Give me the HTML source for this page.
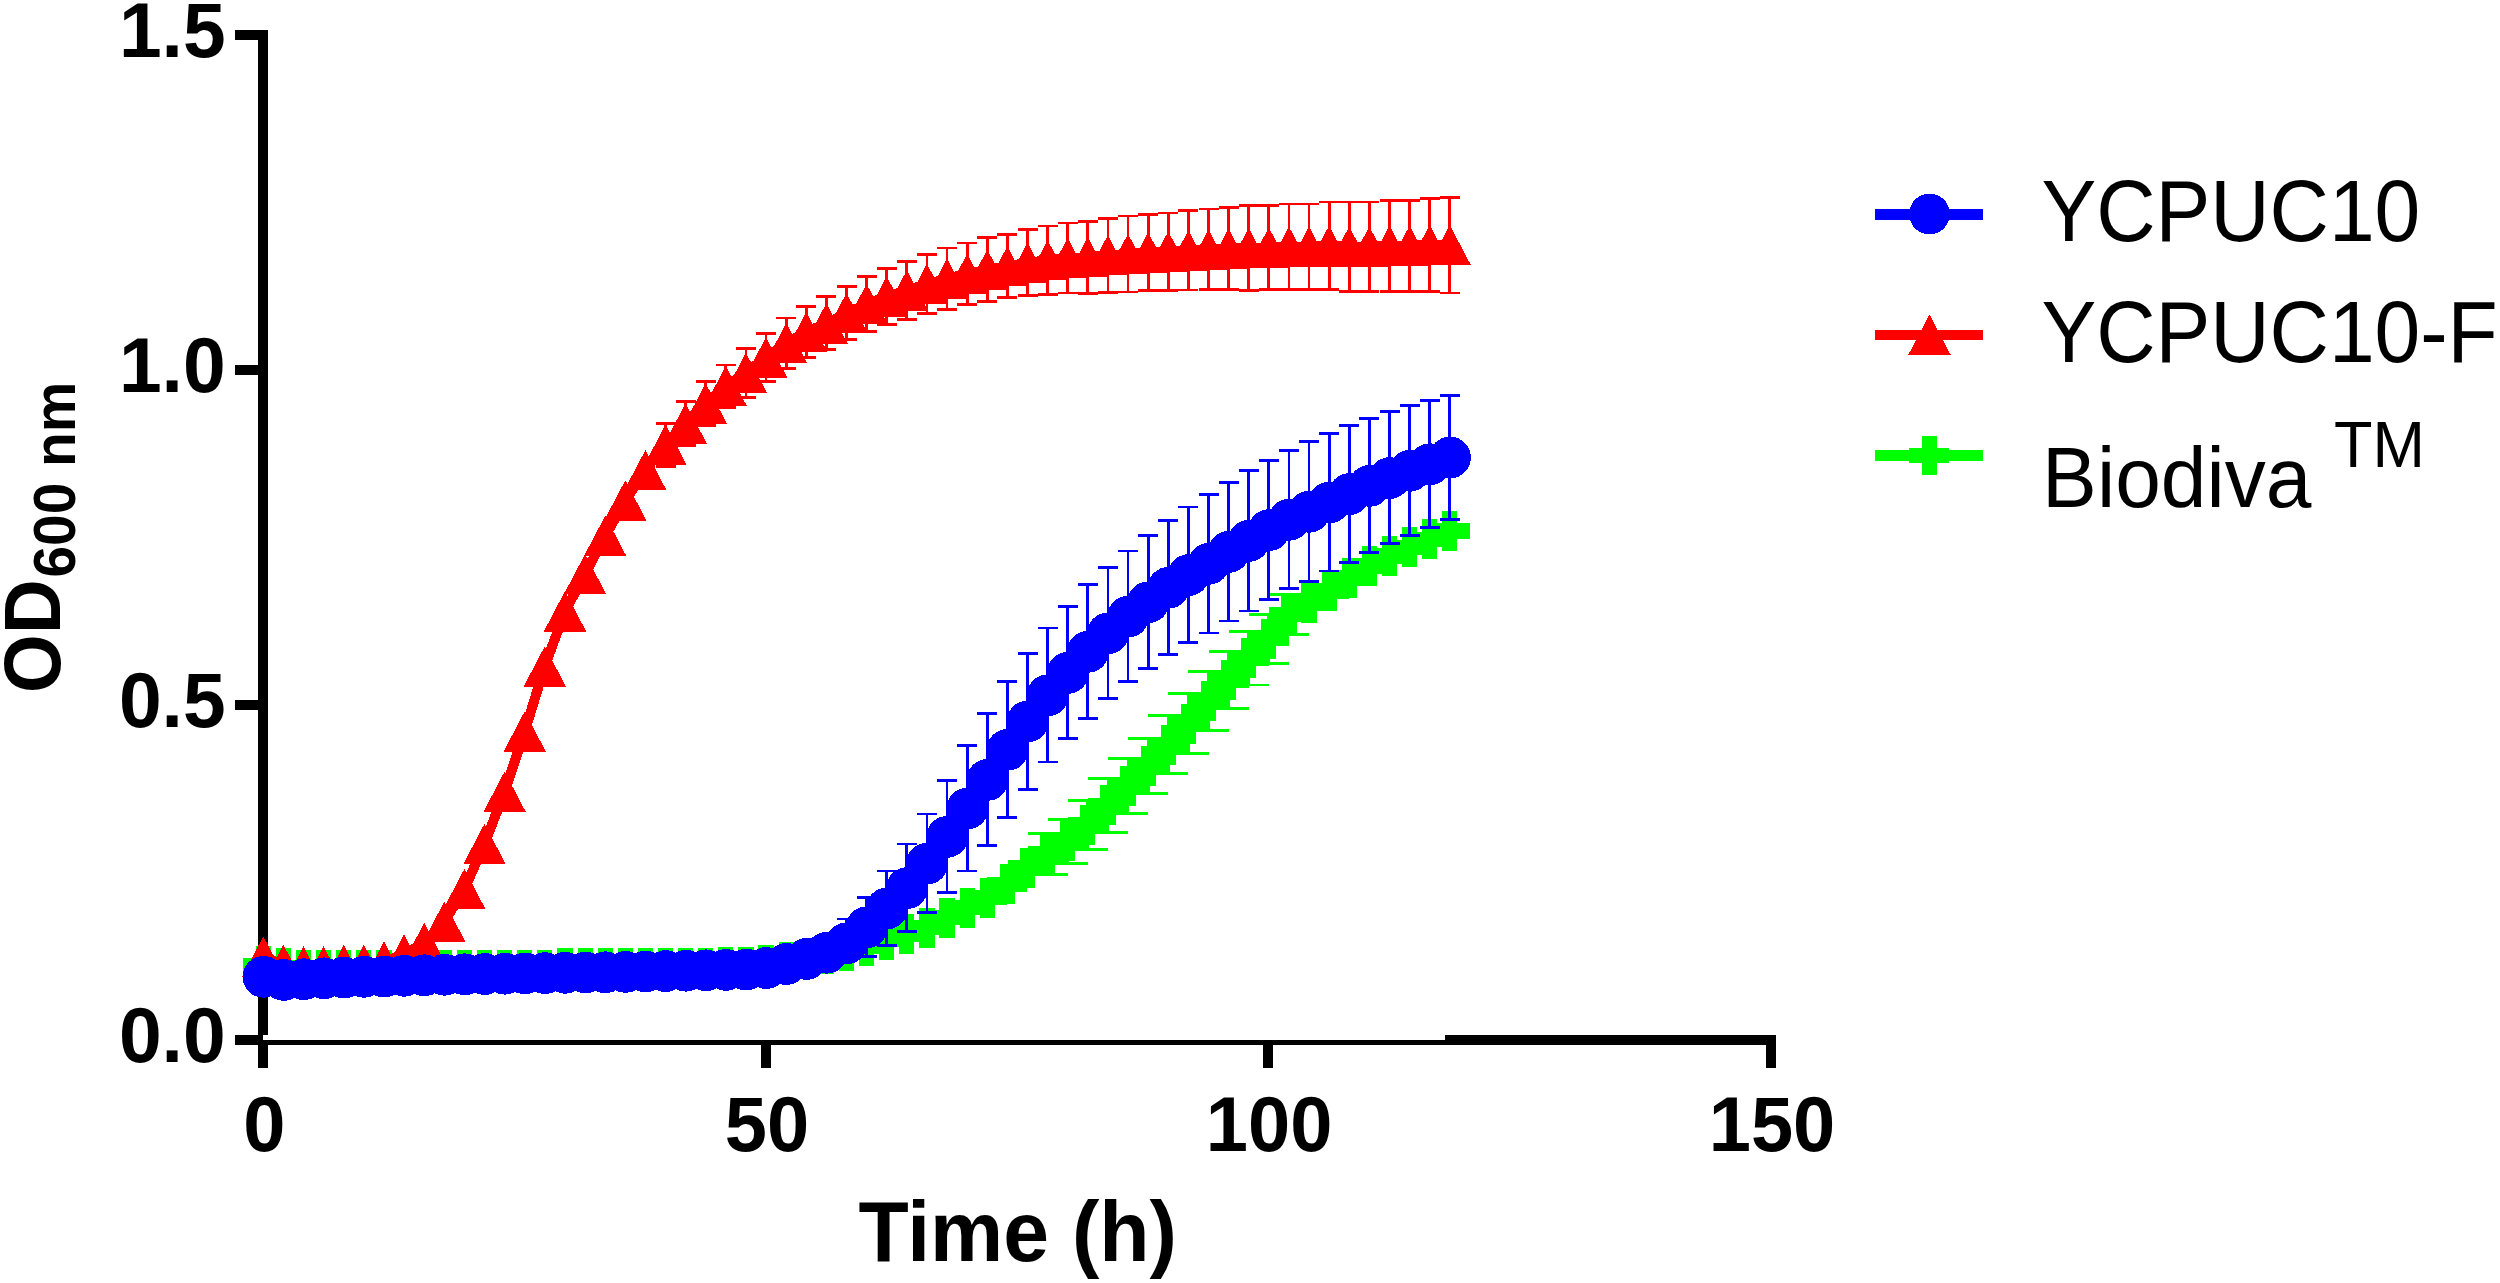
<!DOCTYPE html>
<html lang="en">
<head>
<meta charset="utf-8">
<title>Growth curves OD600 nm vs Time (h)</title>
<style>
html,body{margin:0;padding:0;background:#fff;}
body{width:2500px;height:1283px;overflow:hidden;}
svg{display:block;}
</style>
</head>
<body>
<svg width="2500" height="1283" viewBox="0 0 2500 1283">
<rect width="2500" height="1283" fill="#fff"/>
<g id="axes" fill="#000" shape-rendering="crispEdges"><rect x="258" y="30" width="10" height="1005"/><rect x="234.5" y="30" width="28" height="10"/><rect x="234.5" y="365" width="28" height="10"/><rect x="234.5" y="700" width="28" height="10"/><rect x="234.5" y="1035" width="28.4" height="10"/><rect x="258" y="1035" width="4.9" height="10"/><rect x="262.8" y="1040" width="1182" height="5"/><rect x="1444.5" y="1035" width="331.8" height="10"/><rect x="258" y="1044" width="10" height="24.4"/><rect x="760.7" y="1044" width="10" height="24.4"/><rect x="1263.3" y="1044" width="10" height="24.4"/><rect x="1766.2" y="1035" width="10.1" height="33.4"/></g>
<g id="s-green" fill="#00ff00" shape-rendering="crispEdges">
<path d="M1047.6 833.7V874.3M1027.5 833.7H1067.7M1027.5 874.3H1067.7M1067.7 819.1V863.7M1047.6 819.1H1087.8M1047.6 863.7H1087.8M1087.8 800.7V849.1M1067.7 800.7H1107.9M1067.7 849.1H1107.9M1107.9 778.4V832.2M1087.8 778.4H1128M1087.8 832.2H1128M1128 758.6V813.4M1107.9 758.6H1148.1M1107.9 813.4H1148.1M1148.1 738.7V793.7M1128 738.7H1168.2M1128 793.7H1168.2M1168.2 715.4V773.8M1148.2 715.4H1188.3M1148.2 773.8H1188.3M1188.4 693.4V753.6M1168.3 693.4H1208.5M1168.3 753.6H1208.5M1208.5 671.4V730.2M1188.4 671.4H1228.6M1188.4 730.2H1228.6M1228.6 651.7V708.3M1208.5 651.7H1248.7M1208.5 708.3H1248.7M1248.7 631.5V684.9M1228.6 631.5H1268.8M1228.6 684.9H1268.8M1268.8 614.3V663.3M1248.7 614.3H1288.9M1248.7 663.3H1288.9M1288.9 594.3V634.7M1268.8 594.3H1309M1268.8 634.7H1309" fill="none" stroke="#00ff00" stroke-width="2.8"/>
<polyline points="263.3,966 283.4,968 303.5,969.8 323.6,969.8 343.7,969.8 363.9,969.8 384,969.8 404.1,969.8 424.2,969.8 444.3,969.8 464.4,969.8 484.5,969.8 504.6,969.8 524.7,969.8 544.8,969.8 565,968 585.1,968 605.2,968 625.3,968 645.4,968 665.5,968 685.6,968 705.7,968 725.8,966.8 745.9,966.8 766,965.2 786.2,962.2 806.3,959.1 826.4,954.4 846.5,950.9 866.6,946 886.7,939.5 906.8,934 926.9,927.5 947,917.5 967.2,907.6 987.3,897.6 1007.4,884.4 1027.5,867.5 1047.6,854 1067.7,841.4 1087.8,824.9 1107.9,805.3 1128,786 1148.1,766.2 1168.2,744.6 1188.4,723.5 1208.5,700.8 1228.6,680 1248.7,658.2 1268.8,638.8 1288.9,614.5 1309,603 1329.1,591 1349.2,578 1369.3,566 1389.5,556 1409.6,547.4 1429.7,539.3 1449.8,530.9" fill="none" stroke="#00ff00" stroke-width="10" stroke-linejoin="round"/>
<path d="M255.7 946h15.2v40h-15.2ZM243.3 958.4h40v15.2h-40ZM275.8 948h15.2v40h-15.2ZM263.4 960.4h40v15.2h-40ZM295.9 949.8h15.2v40h-15.2ZM283.5 962.2h40v15.2h-40ZM316 949.8h15.2v40h-15.2ZM303.6 962.2h40v15.2h-40ZM336.1 949.8h15.2v40h-15.2ZM323.7 962.2h40v15.2h-40ZM356.2 949.8h15.2v40h-15.2ZM343.9 962.2h40v15.2h-40ZM376.4 949.8h15.2v40h-15.2ZM364 962.2h40v15.2h-40ZM396.5 949.8h15.2v40h-15.2ZM384.1 962.2h40v15.2h-40ZM416.6 949.8h15.2v40h-15.2ZM404.2 962.2h40v15.2h-40ZM436.7 949.8h15.2v40h-15.2ZM424.3 962.2h40v15.2h-40ZM456.8 949.8h15.2v40h-15.2ZM444.4 962.2h40v15.2h-40ZM476.9 949.8h15.2v40h-15.2ZM464.5 962.2h40v15.2h-40ZM497 949.8h15.2v40h-15.2ZM484.6 962.2h40v15.2h-40ZM517.1 949.8h15.2v40h-15.2ZM504.7 962.2h40v15.2h-40ZM537.2 949.8h15.2v40h-15.2ZM524.8 962.2h40v15.2h-40ZM557.4 948h15.2v40h-15.2ZM545 960.4h40v15.2h-40ZM577.5 948h15.2v40h-15.2ZM565.1 960.4h40v15.2h-40ZM597.6 948h15.2v40h-15.2ZM585.2 960.4h40v15.2h-40ZM617.7 948h15.2v40h-15.2ZM605.3 960.4h40v15.2h-40ZM637.8 948h15.2v40h-15.2ZM625.4 960.4h40v15.2h-40ZM657.9 948h15.2v40h-15.2ZM645.5 960.4h40v15.2h-40ZM678 948h15.2v40h-15.2ZM665.6 960.4h40v15.2h-40ZM698.1 948h15.2v40h-15.2ZM685.7 960.4h40v15.2h-40ZM718.2 946.8h15.2v40h-15.2ZM705.8 959.2h40v15.2h-40ZM738.3 946.8h15.2v40h-15.2ZM725.9 959.2h40v15.2h-40ZM758.4 945.2h15.2v40h-15.2ZM746 957.6h40v15.2h-40ZM778.6 942.2h15.2v40h-15.2ZM766.2 954.6h40v15.2h-40ZM798.7 939.1h15.2v40h-15.2ZM786.3 951.5h40v15.2h-40ZM818.8 934.4h15.2v40h-15.2ZM806.4 946.8h40v15.2h-40ZM838.9 930.9h15.2v40h-15.2ZM826.5 943.3h40v15.2h-40ZM859 926h15.2v40h-15.2ZM846.6 938.4h40v15.2h-40ZM879.1 919.5h15.2v40h-15.2ZM866.7 931.9h40v15.2h-40ZM899.2 914h15.2v40h-15.2ZM886.8 926.4h40v15.2h-40ZM919.3 907.5h15.2v40h-15.2ZM906.9 919.9h40v15.2h-40ZM939.4 897.5h15.2v40h-15.2ZM927 909.9h40v15.2h-40ZM959.6 887.6h15.2v40h-15.2ZM947.2 900h40v15.2h-40ZM979.7 877.6h15.2v40h-15.2ZM967.3 890h40v15.2h-40ZM999.8 864.4h15.2v40h-15.2ZM987.4 876.8h40v15.2h-40ZM1019.9 847.5h15.2v40h-15.2ZM1007.5 859.9h40v15.2h-40ZM1040 834h15.2v40h-15.2ZM1027.6 846.4h40v15.2h-40ZM1060.1 821.4h15.2v40h-15.2ZM1047.7 833.8h40v15.2h-40ZM1080.2 804.9h15.2v40h-15.2ZM1067.8 817.3h40v15.2h-40ZM1100.3 785.3h15.2v40h-15.2ZM1087.9 797.7h40v15.2h-40ZM1120.4 766h15.2v40h-15.2ZM1108 778.4h40v15.2h-40ZM1140.5 746.2h15.2v40h-15.2ZM1128.1 758.6h40v15.2h-40ZM1160.7 724.6h15.2v40h-15.2ZM1148.2 737h40v15.2h-40ZM1180.8 703.5h15.2v40h-15.2ZM1168.4 715.9h40v15.2h-40ZM1200.9 680.8h15.2v40h-15.2ZM1188.5 693.2h40v15.2h-40ZM1221 660h15.2v40h-15.2ZM1208.6 672.4h40v15.2h-40ZM1241.1 638.2h15.2v40h-15.2ZM1228.7 650.6h40v15.2h-40ZM1261.2 618.8h15.2v40h-15.2ZM1248.8 631.2h40v15.2h-40ZM1281.3 594.5h15.2v40h-15.2ZM1268.9 606.9h40v15.2h-40ZM1301.4 583h15.2v40h-15.2ZM1289 595.4h40v15.2h-40ZM1321.5 571h15.2v40h-15.2ZM1309.1 583.4h40v15.2h-40ZM1341.6 558h15.2v40h-15.2ZM1329.2 570.4h40v15.2h-40ZM1361.8 546h15.2v40h-15.2ZM1349.3 558.4h40v15.2h-40ZM1381.9 536h15.2v40h-15.2ZM1369.5 548.4h40v15.2h-40ZM1402 527.4h15.2v40h-15.2ZM1389.6 539.8h40v15.2h-40ZM1422.1 519.3h15.2v40h-15.2ZM1409.7 531.7h40v15.2h-40ZM1442.2 510.9h15.2v40h-15.2ZM1429.8 523.3h40v15.2h-40Z"/>
</g>
<g id="s-red" fill="#ff0000" shape-rendering="crispEdges">
<path d="M665.5 423.4V466.2M655.5 423.4H675.5M655.5 466.2H675.5M685.6 401.3V445.3M675.6 401.3H695.6M675.6 445.3H695.6M705.7 381.3V425.5M695.7 381.3H715.7M695.7 425.5H715.7M725.8 364.9V407.3M715.8 364.9H735.8M715.8 407.3H735.8M745.9 348.4V397.4M735.9 348.4H755.9M735.9 397.4H755.9M766 333.3V381.3M756 333.3H776M756 381.3H776M786.2 318V368.4M776.2 318H796.2M776.2 368.4H796.2M806.3 306.6V357.4M796.3 306.6H816.3M796.3 357.4H816.3M826.4 296.8V349.8M816.4 296.8H836.4M816.4 349.8H836.4M846.5 286.5V339.7M836.5 286.5H856.5M836.5 339.7H856.5M866.6 276.7V331.5M856.6 276.7H876.6M856.6 331.5H876.6M886.7 268.2V324.8M876.7 268.2H896.7M876.7 324.8H896.7M906.8 261.4V319.4M896.8 261.4H916.8M896.8 319.4H916.8M926.9 254.5V313.3M916.9 254.5H936.9M916.9 313.3H936.9M947 248V309.4M937 248H957M937 309.4H957M967.2 243V304.6M957.2 243H977.2M957.2 304.6H977.2M987.3 237.8V301.4M977.3 237.8H997.3M977.3 301.4H997.3M1007.4 234.6V297.8M997.4 234.6H1017.4M997.4 297.8H1017.4M1027.5 229.8V295.8M1017.5 229.8H1037.5M1017.5 295.8H1037.5M1047.6 226V294.4M1037.6 226H1057.6M1037.6 294.4H1057.6M1067.7 223V293M1057.7 223H1077.7M1057.7 293H1077.7M1087.8 221.2V293.2M1077.8 221.2H1097.8M1077.8 293.2H1097.8M1107.9 218.3V292.1M1097.9 218.3H1117.9M1097.9 292.1H1117.9M1128 216V292M1118 216H1138M1118 292H1138M1148.1 214.4V290.2M1138.1 214.4H1158.1M1138.1 290.2H1158.1M1168.2 212.9V290.1M1158.2 212.9H1178.2M1158.2 290.1H1178.2M1188.4 210.8V290M1178.4 210.8H1198.4M1178.4 290H1198.4M1208.5 209V289.8M1198.5 209H1218.5M1198.5 289.8H1218.5M1228.6 207.6V289.8M1218.6 207.6H1238.6M1218.6 289.8H1238.6M1248.7 205.7V290.3M1238.7 205.7H1258.7M1238.7 290.3H1258.7M1268.8 205.8V289.4M1258.8 205.8H1278.8M1258.8 289.4H1278.8M1288.9 204V289.4M1278.9 204H1298.9M1278.9 289.4H1298.9M1309 204V289.4M1299 204H1319M1299 289.4H1319M1329.1 202V289.4M1319.1 202H1339.1M1319.1 289.4H1339.1M1349.2 202V291.2M1339.2 202H1359.2M1339.2 291.2H1359.2M1369.3 202V291.2M1359.3 202H1379.3M1359.3 291.2H1379.3M1389.5 200.2V291.2M1379.5 200.2H1399.5M1379.5 291.2H1399.5M1409.6 200.2V291.2M1399.6 200.2H1419.6M1399.6 291.2H1419.6M1429.7 198.8V291.2M1419.7 198.8H1439.7M1419.7 291.2H1439.7M1449.8 197.2V293M1439.8 197.2H1459.8M1439.8 293H1459.8" fill="none" stroke="#ff0000" stroke-width="2.8"/>
<polyline points="263.3,956.5 283.4,964.8 303.5,966.4 323.6,966.4 343.7,965.1 363.9,964.8 384,961.6 404.1,954.4 424.2,943 444.3,921.7 464.4,889.1 484.5,843.9 504.6,791.7 524.7,731.5 544.8,666.4 565,611.3 585.1,574.1 605.2,535.9 625.3,500.4 645.4,470.2 665.5,444.8 685.6,423.3 705.7,403.4 725.8,386.1 745.9,372.9 766,357.3 786.2,343.2 806.3,332 826.4,323.3 846.5,313.1 866.6,304.1 886.7,296.5 906.8,290.4 926.9,283.9 947,278.7 967.2,273.8 987.3,269.6 1007.4,266.2 1027.5,262.8 1047.6,260.2 1067.7,258 1087.8,257.2 1107.9,255.2 1128,254 1148.1,252.3 1168.2,251.5 1188.4,250.4 1208.5,249.4 1228.6,248.7 1248.7,248 1268.8,247.6 1288.9,246.7 1309,246.7 1329.1,245.7 1349.2,246.6 1369.3,246.6 1389.5,245.8 1409.6,245.8 1429.7,245 1449.8,245.1" fill="none" stroke="#ff0000" stroke-width="10" stroke-linejoin="round"/>
<path d="M263.3 936.3L284.5 976.7H242.1ZM283.4 944.6L304.6 985H262.2ZM303.5 946.2L324.7 986.6H282.3ZM323.6 946.2L344.8 986.6H302.4ZM343.7 944.9L364.9 985.3H322.5ZM363.9 944.6L385.1 985H342.7ZM384 941.4L405.2 981.8H362.8ZM404.1 934.2L425.3 974.6H382.9ZM424.2 922.8L445.4 963.2H403ZM444.3 901.5L465.5 941.9H423.1ZM464.4 868.9L485.6 909.3H443.2ZM484.5 823.7L505.7 864.1H463.3ZM504.6 771.5L525.8 811.9H483.4ZM524.7 711.3L545.9 751.7H503.5ZM544.8 646.2L566 686.6H523.6ZM565 591.1L586.2 631.5H543.8ZM585.1 553.9L606.3 594.3H563.9ZM605.2 515.7L626.4 556.1H584ZM625.3 480.2L646.5 520.6H604.1ZM645.4 450L666.6 490.4H624.2ZM665.5 424.6L686.7 465H644.3ZM685.6 403.1L706.8 443.5H664.4ZM705.7 383.2L726.9 423.6H684.5ZM725.8 365.9L747 406.3H704.6ZM745.9 352.7L767.1 393.1H724.7ZM766 337.1L787.2 377.5H744.8ZM786.2 323L807.4 363.4H765ZM806.3 311.8L827.5 352.2H785.1ZM826.4 303.1L847.6 343.5H805.2ZM846.5 292.9L867.7 333.3H825.3ZM866.6 283.9L887.8 324.3H845.4ZM886.7 276.3L907.9 316.7H865.5ZM906.8 270.2L928 310.6H885.6ZM926.9 263.7L948.1 304.1H905.7ZM947 258.5L968.2 298.9H925.8ZM967.2 253.6L988.4 294H946ZM987.3 249.4L1008.5 289.8H966.1ZM1007.4 246L1028.6 286.4H986.2ZM1027.5 242.6L1048.7 283H1006.3ZM1047.6 240L1068.8 280.4H1026.4ZM1067.7 237.8L1088.9 278.2H1046.5ZM1087.8 237L1109 277.4H1066.6ZM1107.9 235L1129.1 275.4H1086.7ZM1128 233.8L1149.2 274.2H1106.8ZM1148.1 232.1L1169.3 272.5H1126.9ZM1168.2 231.3L1189.5 271.7H1147ZM1188.4 230.2L1209.6 270.6H1167.2ZM1208.5 229.2L1229.7 269.6H1187.3ZM1228.6 228.5L1249.8 268.9H1207.4ZM1248.7 227.8L1269.9 268.2H1227.5ZM1268.8 227.4L1290 267.8H1247.6ZM1288.9 226.5L1310.1 266.9H1267.7ZM1309 226.5L1330.2 266.9H1287.8ZM1329.1 225.5L1350.3 265.9H1307.9ZM1349.2 226.4L1370.4 266.8H1328ZM1369.3 226.4L1390.5 266.8H1348.1ZM1389.5 225.6L1410.7 265.9H1368.3ZM1409.6 225.6L1430.8 265.9H1388.4ZM1429.7 224.8L1450.9 265.2H1408.5ZM1449.8 224.9L1471 265.3H1428.6Z"/>
</g>
<g id="s-blue" fill="#0000ff" shape-rendering="crispEdges">
<path d="M846.5 919V943M836.5 919H856.5M866.6 897.8V956.2M856.6 897.8H876.6M856.6 956.2H876.6M886.7 871V945.4M876.7 871H896.7M876.7 945.4H896.7M906.8 843.9V931.7M896.8 843.9H916.8M896.8 931.7H916.8M926.9 814V912.6M916.9 814H936.9M916.9 912.6H936.9M947 780.6V892.6M937 780.6H957M937 892.6H957M967.2 745.5V870.9M957.2 745.5H977.2M957.2 870.9H977.2M987.3 713.4V845.8M977.3 713.4H997.3M977.3 845.8H997.3M1007.4 681.6V817.4M997.4 681.6H1017.4M997.4 817.4H1017.4M1027.5 653.1V789.1M1017.5 653.1H1037.5M1017.5 789.1H1037.5M1047.6 628V762M1037.6 628H1057.6M1037.6 762H1057.6M1067.7 606.4V738.8M1057.7 606.4H1077.7M1057.7 738.8H1077.7M1087.8 584.5V718.5M1077.8 584.5H1097.8M1077.8 718.5H1097.8M1107.9 567.7V698.3M1097.9 567.7H1117.9M1097.9 698.3H1117.9M1128 551V681.6M1118 551H1138M1118 681.6H1138M1148.1 535.6V668.4M1138.1 535.6H1158.1M1138.1 668.4H1158.1M1168.2 520.6V654.4M1158.2 520.6H1178.2M1158.2 654.4H1178.2M1188.4 506.9V642.7M1178.4 506.9H1198.4M1178.4 642.7H1198.4M1208.5 494.1V632.9M1198.5 494.1H1218.5M1198.5 632.9H1218.5M1228.6 482.2V621M1218.6 482.2H1238.6M1218.6 621H1238.6M1248.7 470.2V611M1238.7 470.2H1258.7M1238.7 611H1258.7M1268.8 460.4V599.2M1258.8 460.4H1278.8M1258.8 599.2H1278.8M1288.9 450.3V588.7M1278.9 450.3H1298.9M1278.9 588.7H1298.9M1309 441.8V581.2M1299 441.8H1319M1299 581.2H1319M1329.1 433.7V570.9M1319.1 433.7H1339.1M1319.1 570.9H1339.1M1349.2 425.2V562.4M1339.2 425.2H1359.2M1339.2 562.4H1359.2M1369.3 418.6V552.6M1359.3 418.6H1379.3M1359.3 552.6H1379.3M1389.5 411.8V543.8M1379.5 411.8H1399.5M1379.5 543.8H1399.5M1409.6 405.4V535.6M1399.6 405.4H1419.6M1399.6 535.6H1419.6M1429.7 400.3V527.5M1419.7 400.3H1439.7M1419.7 527.5H1439.7M1449.8 395.2V519.2M1439.8 395.2H1459.8M1439.8 519.2H1459.8" fill="none" stroke="#0000ff" stroke-width="2.8"/>
<polyline points="263.3,976.5 283.4,979.6 303.5,978.9 323.6,978 343.7,977.3 363.9,976.5 384,976.3 404.1,975.5 424.2,975 444.3,974.5 464.4,974 484.5,973.7 504.6,973.4 524.7,973.1 544.8,972.8 565,972.5 585.1,972.2 605.2,972 625.3,971.6 645.4,971.2 665.5,970.8 685.6,970.4 705.7,970 725.8,969.6 745.9,969.3 766,967.7 786.2,963.7 806.3,958.7 826.4,952.5 846.5,943 866.6,927 886.7,908.2 906.8,887.8 926.9,863.3 947,836.6 967.2,808.2 987.3,779.6 1007.4,749.5 1027.5,721.1 1047.6,695 1067.7,672.6 1087.8,651.5 1107.9,633 1128,616.3 1148.1,602 1168.2,587.5 1188.4,574.8 1208.5,563.5 1228.6,551.6 1248.7,540.6 1268.8,529.8 1288.9,519.5 1309,511.5 1329.1,502.3 1349.2,493.8 1369.3,485.6 1389.5,477.8 1409.6,470.5 1429.7,463.9 1449.8,457.2" fill="none" stroke="#0000ff" stroke-width="10" stroke-linejoin="round"/>
<circle cx="263.5" cy="976.8" r="20.9"/><circle cx="283.6" cy="979.9" r="20.9"/><circle cx="303.7" cy="979.2" r="20.9"/><circle cx="323.8" cy="978.3" r="20.9"/><circle cx="343.9" cy="977.6" r="20.9"/><circle cx="364.1" cy="976.8" r="20.9"/><circle cx="384.2" cy="976.6" r="20.9"/><circle cx="404.3" cy="975.8" r="20.9"/><circle cx="424.4" cy="975.3" r="20.9"/><circle cx="444.5" cy="974.8" r="20.9"/><circle cx="464.6" cy="974.3" r="20.9"/><circle cx="484.7" cy="974" r="20.9"/><circle cx="504.8" cy="973.7" r="20.9"/><circle cx="524.9" cy="973.4" r="20.9"/><circle cx="545" cy="973.1" r="20.9"/><circle cx="565.2" cy="972.8" r="20.9"/><circle cx="585.3" cy="972.5" r="20.9"/><circle cx="605.4" cy="972.3" r="20.9"/><circle cx="625.5" cy="971.9" r="20.9"/><circle cx="645.6" cy="971.5" r="20.9"/><circle cx="665.7" cy="971.1" r="20.9"/><circle cx="685.8" cy="970.7" r="20.9"/><circle cx="705.9" cy="970.3" r="20.9"/><circle cx="726" cy="969.9" r="20.9"/><circle cx="746.1" cy="969.6" r="20.9"/><circle cx="766.2" cy="968" r="20.9"/><circle cx="786.4" cy="964" r="20.9"/><circle cx="806.5" cy="959" r="20.9"/><circle cx="826.6" cy="952.8" r="20.9"/><circle cx="846.7" cy="943.3" r="20.9"/><circle cx="866.8" cy="927.3" r="20.9"/><circle cx="886.9" cy="908.5" r="20.9"/><circle cx="907" cy="888.1" r="20.9"/><circle cx="927.1" cy="863.6" r="20.9"/><circle cx="947.2" cy="836.9" r="20.9"/><circle cx="967.4" cy="808.5" r="20.9"/><circle cx="987.5" cy="779.9" r="20.9"/><circle cx="1007.6" cy="749.8" r="20.9"/><circle cx="1027.7" cy="721.4" r="20.9"/><circle cx="1047.8" cy="695.3" r="20.9"/><circle cx="1067.9" cy="672.9" r="20.9"/><circle cx="1088" cy="651.8" r="20.9"/><circle cx="1108.1" cy="633.3" r="20.9"/><circle cx="1128.2" cy="616.6" r="20.9"/><circle cx="1148.3" cy="602.3" r="20.9"/><circle cx="1168.5" cy="587.8" r="20.9"/><circle cx="1188.6" cy="575.1" r="20.9"/><circle cx="1208.7" cy="563.8" r="20.9"/><circle cx="1228.8" cy="551.9" r="20.9"/><circle cx="1248.9" cy="540.9" r="20.9"/><circle cx="1269" cy="530.1" r="20.9"/><circle cx="1289.1" cy="519.8" r="20.9"/><circle cx="1309.2" cy="511.8" r="20.9"/><circle cx="1329.3" cy="502.6" r="20.9"/><circle cx="1349.4" cy="494.1" r="20.9"/><circle cx="1369.5" cy="485.9" r="20.9"/><circle cx="1389.7" cy="478.1" r="20.9"/><circle cx="1409.8" cy="470.8" r="20.9"/><circle cx="1429.9" cy="464.2" r="20.9"/><circle cx="1450" cy="457.5" r="20.9"/>
</g>
<g font-family="'Liberation Sans', Arial, Helvetica, sans-serif" fill="#000"><text transform="translate(225.6 57.4) scale(0.978 1)" font-size="78.5px" font-weight="bold" text-anchor="end">1.5</text><text transform="translate(225.6 392.4) scale(0.978 1)" font-size="78.5px" font-weight="bold" text-anchor="end">1.0</text><text transform="translate(225.6 727.4) scale(0.978 1)" font-size="78.5px" font-weight="bold" text-anchor="end">0.5</text><text transform="translate(225.6 1062.4) scale(0.978 1)" font-size="78.5px" font-weight="bold" text-anchor="end">0.0</text><text transform="translate(264.3 1151) scale(0.9647 1)" font-size="78.7px" font-weight="bold" text-anchor="middle">0</text><text transform="translate(767 1151) scale(0.9647 1)" font-size="78.7px" font-weight="bold" text-anchor="middle">50</text><text transform="translate(1269.2 1151) scale(0.9647 1)" font-size="78.7px" font-weight="bold" text-anchor="middle">100</text><text transform="translate(1772 1151) scale(0.9647 1)" font-size="78.7px" font-weight="bold" text-anchor="middle">150</text><text transform="translate(858.5 1260.9) scale(0.968 1)" font-size="85px" font-weight="bold">Time (h)</text><text transform="translate(60.2 692.9) rotate(-90) scale(0.94 1)" font-size="80.4px" font-weight="bold">OD</text><text transform="translate(75.3 577.5) rotate(-90) scale(0.95 1)" font-size="59.8px" font-weight="bold">600 nm</text><text transform="translate(2041.4 241.1) scale(0.94 1)" font-size="87.4px">YCPUC10</text><text transform="translate(2041.4 361.5) scale(0.94 1)" font-size="87.4px">YCPUC10-F</text><text transform="translate(2042.1 507.4) scale(0.9666 1)" font-size="85px">Biodiva</text><text transform="translate(2334.1 467.3) scale(0.96 1)" font-size="65.6px">TM</text></g>
<g id="legend" shape-rendering="crispEdges"><rect x="1875" y="209.3" width="107.5" height="10.2" fill="#0000ff"/><circle cx="1929.5" cy="214" r="20.4" fill="#0000ff"/><rect x="1875" y="329.5" width="107.5" height="10.2" fill="#ff0000"/><path d="M1929.5 314.5L1950.8 355H1908.2Z" fill="#ff0000"/><rect x="1875" y="450.3" width="107.5" height="10.5" fill="#00ff00"/><path d="M1922.2 435.5h15.2v39.7h-15.2ZM1909 447.5h40.3v15.2h-40.3Z" fill="#00ff00"/></g>
</svg>
</body>
</html>
